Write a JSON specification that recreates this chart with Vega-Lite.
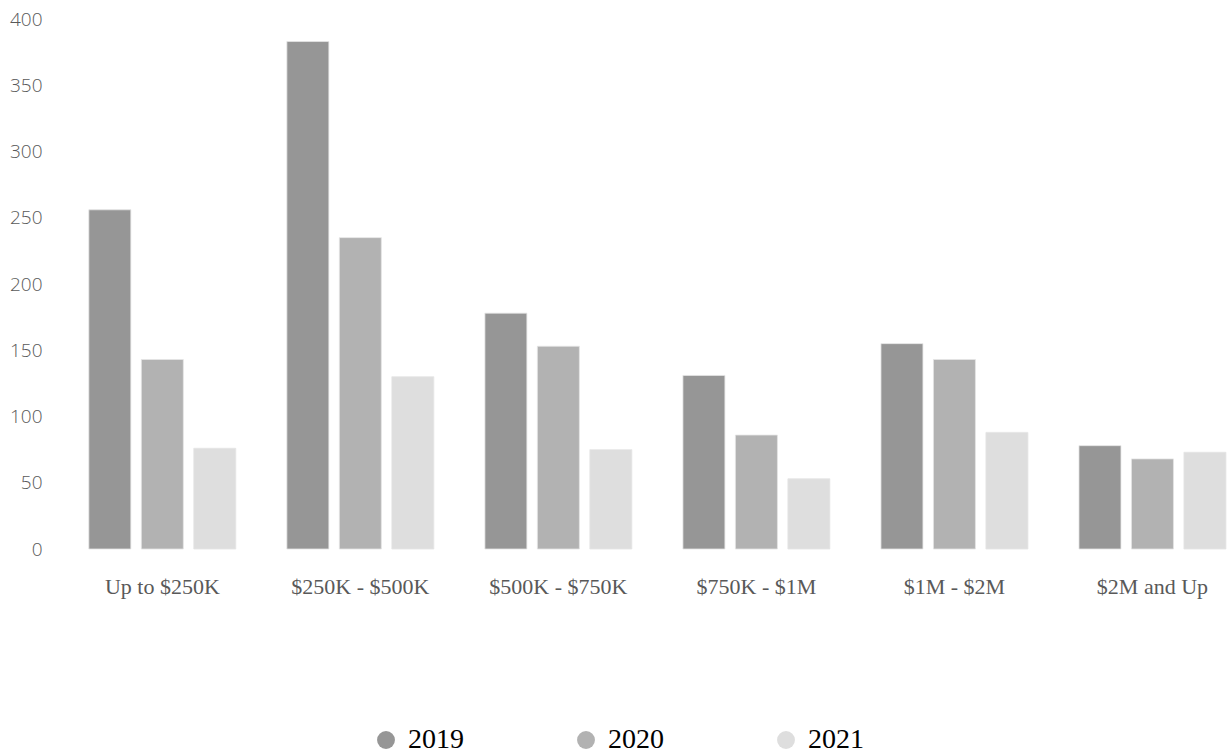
{
  "$schema": "https://vega.github.io/schema/vega-lite/v6.json",
  "width": 1164,
  "height": 530,
  "padding": {"left": 9, "top": 10, "right": 0, "bottom": 0},
  "background": "white",
  "data": {
    "values": [
      {"range": "Up to $250K", "year": "2019", "count": 256},
      {"range": "Up to $250K", "year": "2020", "count": 143},
      {"range": "Up to $250K", "year": "2021", "count": 76},
      {"range": "$250K - $500K", "year": "2019", "count": 383},
      {"range": "$250K - $500K", "year": "2020", "count": 235},
      {"range": "$250K - $500K", "year": "2021", "count": 130},
      {"range": "$500K - $750K", "year": "2019", "count": 178},
      {"range": "$500K - $750K", "year": "2020", "count": 153},
      {"range": "$500K - $750K", "year": "2021", "count": 75},
      {"range": "$750K - $1M", "year": "2019", "count": 131},
      {"range": "$750K - $1M", "year": "2020", "count": 86},
      {"range": "$750K - $1M", "year": "2021", "count": 53},
      {"range": "$1M - $2M", "year": "2019", "count": 155},
      {"range": "$1M - $2M", "year": "2020", "count": 143},
      {"range": "$1M - $2M", "year": "2021", "count": 88},
      {"range": "$2M and Up", "year": "2019", "count": 78},
      {"range": "$2M and Up", "year": "2020", "count": 68},
      {"range": "$2M and Up", "year": "2021", "count": 73}
    ]
  },
  "mark": {"type": "bar", "stroke": "#e4e4e4", "strokeWidth": 0.8},
  "encoding": {
    "x": {
      "field": "range",
      "type": "nominal",
      "sort": null,
      "scale": {"paddingInner": 0.258, "paddingOuter": 0.068, "align": 0.96},
      "axis": {
        "title": null,
        "labelAngle": 0,
        "domain": false,
        "ticks": false,
        "labelFont": "Liberation Serif",
        "labelFontSize": 22,
        "labelColor": "#595959",
        "labelPadding": 27
      }
    },
    "xOffset": {
      "field": "year",
      "type": "nominal",
      "scale": {"paddingInner": 0.2, "paddingOuter": 0}
    },
    "y": {
      "field": "count",
      "type": "quantitative",
      "scale": {"domain": [0, 400]},
      "axis": {
        "title": null,
        "values": [0, 50, 100, 150, 200, 250, 300, 350, 400],
        "domain": false,
        "ticks": false,
        "grid": false,
        "labelFont": "Open Sans",
        "labelFontWeight": 300,
        "labelFontSize": 19,
        "labelColor": "#595959",
        "labelPadding": 21
      }
    },
    "color": {
      "field": "year",
      "type": "nominal",
      "scale": {"domain": ["2019", "2020", "2021"], "range": ["#969696", "#b2b2b2", "#dedede"]},
      "legend": {
        "title": null,
        "orient": "none",
        "legendX": 309,
        "legendY": 707,
        "direction": "horizontal",
        "symbolType": "circle",
        "symbolSize": 320,
        "symbolStrokeWidth": 0,
        "labelFont": "Liberation Serif",
        "labelFontSize": 28,
        "labelColor": "#000000",
        "labelOffset": 8,
        "columnPadding": 108
      }
    }
  },
  "config": {"view": {"stroke": null}}
}
